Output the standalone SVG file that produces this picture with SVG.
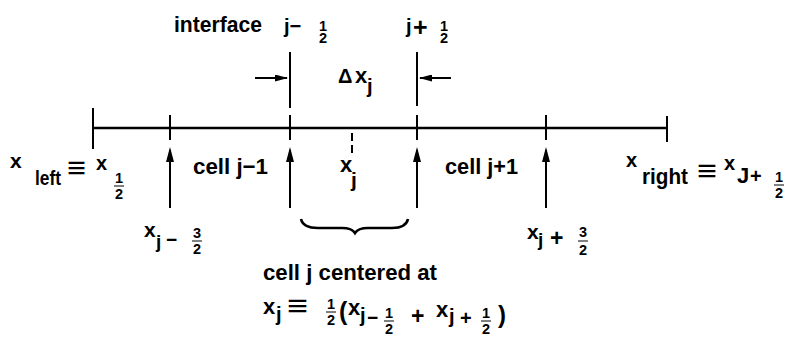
<svg xmlns="http://www.w3.org/2000/svg" width="786" height="339" viewBox="0 0 786 339">
<style>
.t{font-family:"Liberation Sans",Arial,sans-serif;font-weight:bold;fill:#000}
.f{font-family:"Liberation Sans",Arial,sans-serif;font-weight:bold;fill:#000;font-size:14.5px;text-anchor:middle}
.eq{font-family:"Liberation Sans",Arial,sans-serif;font-weight:bold;fill:#000;font-size:30px}
.ln{stroke:#000;stroke-width:2;fill:none}
.ax{stroke:#000;stroke-width:2.6;fill:none}
.fb{stroke:#000;stroke-width:1}
</style>
<defs>
<marker id="up" viewBox="0 0 15 8" refX="12" refY="4" markerWidth="15" markerHeight="8" markerUnits="userSpaceOnUse" orient="auto"><path d="M0,0 L15,4 L0,8 z" fill="#000"/></marker>
<marker id="hz" viewBox="0 0 13 7" refX="12" refY="3.5" markerWidth="13" markerHeight="7" markerUnits="userSpaceOnUse" orient="auto"><path d="M0,0 L13,3.5 L0,7 z" fill="#000"/></marker>
</defs>
<rect width="786" height="339" fill="#fff"/>
<g id="axis">
<line class="ax" x1="93" y1="128" x2="667" y2="128"/>
<line class="ln" x1="93" y1="108" x2="93" y2="149"/>
<line class="ln" x1="170" y1="115" x2="170" y2="140"/>
<line class="ln" x1="290" y1="115" x2="290" y2="140"/>
<line class="ln" x1="417" y1="115" x2="417" y2="140"/>
<line class="ln" x1="546" y1="115" x2="546" y2="140"/>
<line class="ln" x1="667" y1="116" x2="667" y2="142"/>
<line class="ln" x1="352" y1="133" x2="352" y2="153" stroke-dasharray="8 4"/>
</g>
<g id="interfaces">
<line class="ln" x1="290" y1="52" x2="290" y2="108"/>
<line class="ln" x1="417" y1="52" x2="417" y2="106"/>
</g>
<g id="connectors">
<line class="ln" x1="255" y1="78" x2="287" y2="78" marker-end="url(#hz)"/>
<line class="ln" x1="451" y1="78" x2="420" y2="78" marker-end="url(#hz)"/>
<line class="ln" x1="170" y1="208" x2="170" y2="150" marker-end="url(#up)"/>
<line class="ln" x1="290" y1="208" x2="290" y2="150" marker-end="url(#up)"/>
<line class="ln" x1="417" y1="208" x2="417" y2="150" marker-end="url(#up)"/>
<line class="ln" x1="546" y1="208" x2="546" y2="150" marker-end="url(#up)"/>
</g>
<g id="label-interface">
<text class="t" x="174" y="32" font-size="22" textLength="88" lengthAdjust="spacingAndGlyphs">interface</text>
<text class="t" x="284" y="33" font-size="20">j−</text>
<text class="f" x="323" y="31">1</text>
<text class="f" x="323" y="43">2</text>
<text class="t" x="406" y="33" font-size="20">j</text>
<text class="t" x="413" y="36" font-size="25">+</text>
<text class="f" x="444" y="31">1</text>
<text class="f" x="444" y="43">2</text>
</g>
<g id="label-dx">
<text class="t" x="338" y="83" font-size="20">Δ</text>
<text class="t" x="355" y="83" font-size="22">x</text>
<text class="t" x="367" y="93" font-size="20">j</text>
</g>
<g id="label-left">
<text class="t" x="10" y="168" font-size="21">x</text>
<text class="t" x="35" y="185" font-size="21" textLength="26" lengthAdjust="spacingAndGlyphs">left</text>
<text class="eq" x="67" y="178" textLength="19" lengthAdjust="spacingAndGlyphs">≡</text>
<text class="t" x="96" y="170" font-size="20">x</text>
<text class="f" x="119" y="183">1</text>
<line class="fb" x1="114" y1="186" x2="124" y2="186"/>
<text class="f" x="119" y="199">2</text>
</g>
<g id="label-cells">
<text class="t" x="193" y="174" font-size="22" textLength="75" lengthAdjust="spacingAndGlyphs">cell j−1</text>
<text class="t" x="340" y="172" font-size="22">x</text>
<text class="t" x="351" y="187" font-size="21">j</text>
<text class="t" x="445" y="174" font-size="22" textLength="73" lengthAdjust="spacingAndGlyphs">cell j+1</text>
</g>
<g id="label-right">
<text class="t" x="626" y="167" font-size="20">x</text>
<text class="t" x="642" y="184" font-size="22" textLength="46" lengthAdjust="spacingAndGlyphs">right</text>
<text class="eq" x="697" y="181" textLength="20" lengthAdjust="spacingAndGlyphs">≡</text>
<text class="t" x="724" y="170" font-size="20">x</text>
<text class="t" x="737" y="183" font-size="22">J</text>
<text class="t" x="750" y="183" font-size="20">+</text>
<text class="f" x="779" y="182">1</text>
<line class="fb" x1="774" y1="185" x2="784" y2="185"/>
<text class="f" x="779" y="198">2</text>
</g>
<g id="label-xjm32">
<text class="t" x="144" y="237" font-size="21">x</text>
<text class="t" x="156" y="248" font-size="19">j</text>
<text class="t" x="166" y="246" font-size="19">−</text>
<text class="f" x="197" y="238">3</text>
<line class="fb" x1="192" y1="241" x2="202" y2="241"/>
<text class="f" x="197" y="254">2</text>
</g>
<g id="label-xjp32">
<text class="t" x="527" y="239" font-size="21">x</text>
<text class="t" x="538" y="246" font-size="19">j</text>
<text class="t" x="550" y="246" font-size="23">+</text>
<text class="f" x="583" y="237">3</text>
<line class="fb" x1="578" y1="241" x2="588" y2="241"/>
<text class="f" x="583" y="255">2</text>
</g>
<g id="brace">
<path d="M301,219 Q303,228 318,228 L342,228 Q352,228 355,233 Q358,228 368,228 L392,228 Q406,228 408,219" fill="none" stroke="#000" stroke-width="2.6"/>
</g>
<g id="label-center">
<text class="t" x="263" y="280" font-size="22" textLength="174" lengthAdjust="spacingAndGlyphs">cell j centered at</text>
</g>
<g id="formula">
<text class="t" x="263" y="314" font-size="22">x</text>
<text class="t" x="276" y="321" font-size="20">j</text>
<text class="eq" x="287" y="316" textLength="21" lengthAdjust="spacingAndGlyphs">≡</text>
<text class="f" x="331" y="309">1</text>
<line class="fb" x1="326" y1="312" x2="336" y2="312"/>
<text class="f" x="331" y="325">2</text>
<text class="t" x="339" y="320" font-size="25">(</text>
<text class="t" x="348" y="315" font-size="22">x</text>
<text class="t" x="360" y="322" font-size="20">j</text>
<text class="t" x="367" y="324" font-size="19">−</text>
<text class="f" x="389" y="318">1</text>
<line class="fb" x1="384" y1="321" x2="394" y2="321"/>
<text class="f" x="389" y="334">2</text>
<text class="t" x="411" y="324" font-size="23">+</text>
<text class="t" x="436" y="317" font-size="22">x</text>
<text class="t" x="449" y="323" font-size="20">j</text>
<text class="t" x="460" y="325" font-size="20">+</text>
<text class="f" x="486" y="318">1</text>
<line class="fb" x1="481" y1="321" x2="491" y2="321"/>
<text class="f" x="486" y="334">2</text>
<text class="t" x="498" y="323" font-size="24">)</text>
</g>
</svg>
